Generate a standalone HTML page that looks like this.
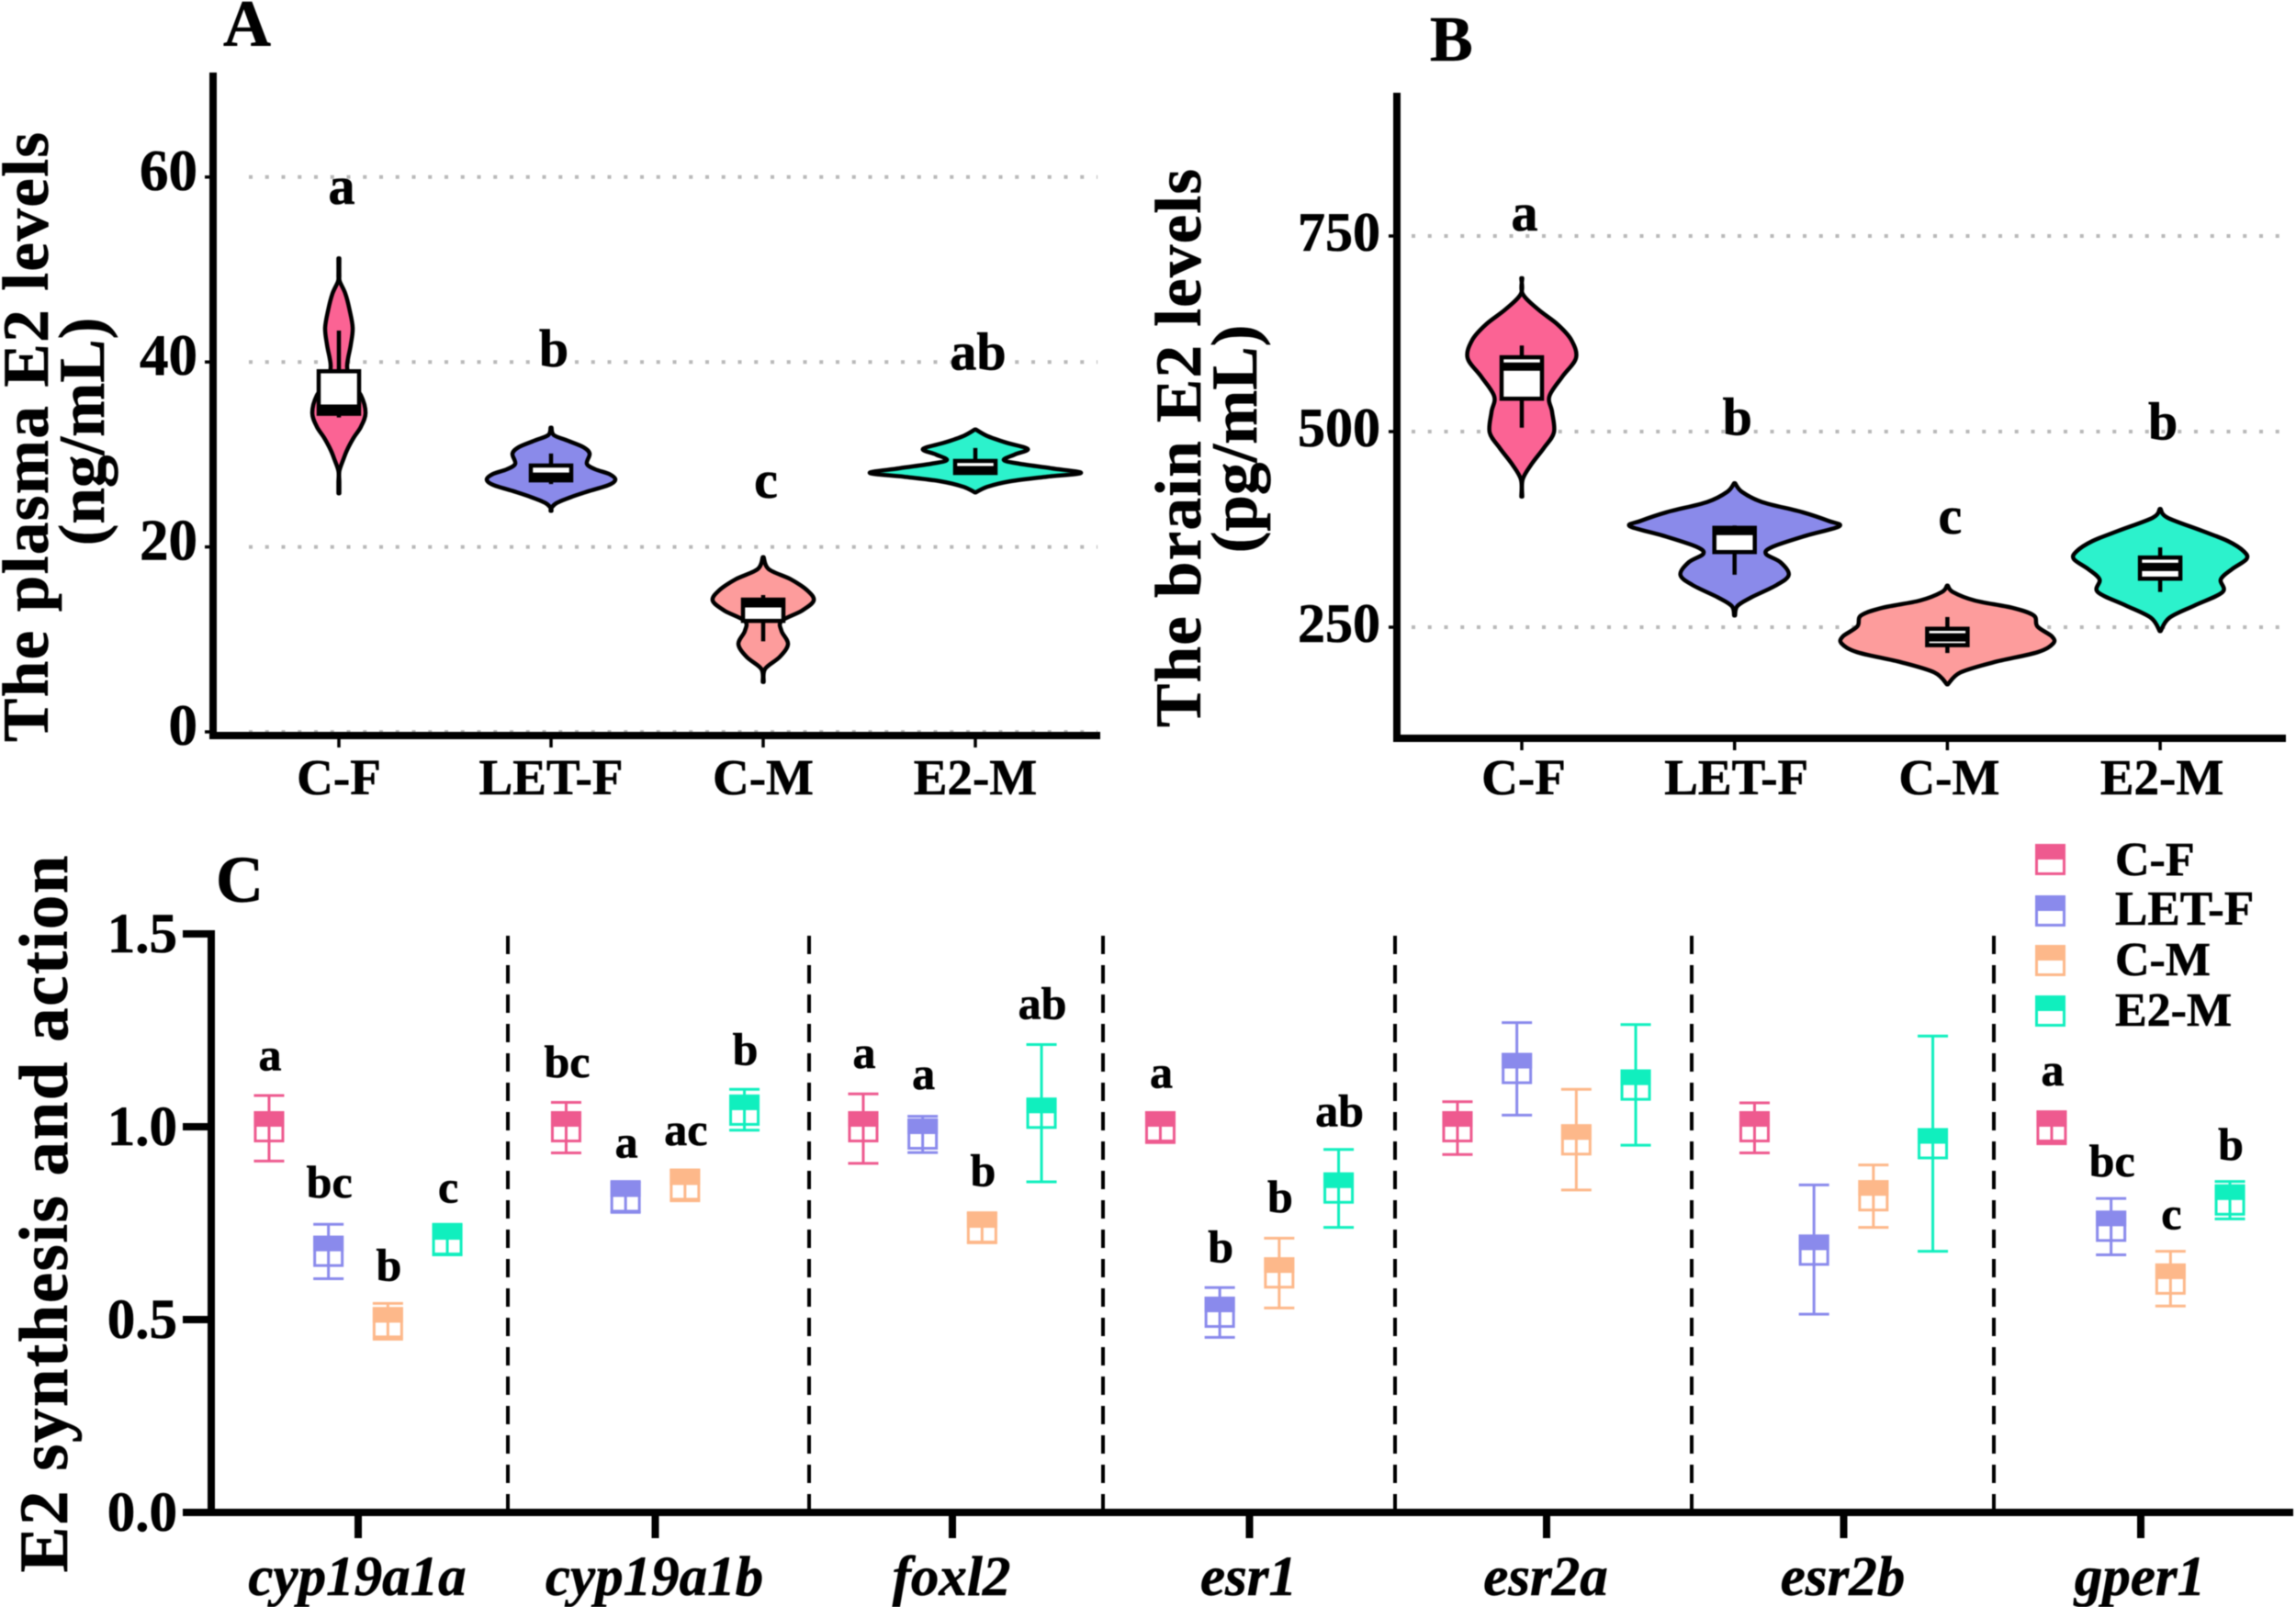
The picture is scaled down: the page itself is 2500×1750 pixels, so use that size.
<!DOCTYPE html>
<html lang="en">
<head>
<meta charset="utf-8">
<title>E2 levels and gene expression</title>
<style>
html,body{margin:0;padding:0;background:#fff;width:2500px;height:1750px;overflow:hidden}
svg{display:block;filter:blur(0.6px)}
text{font-family:"Liberation Serif","Times New Roman",serif;font-weight:700;fill:#000;stroke:#000;stroke-width:0.6px}
</style>
</head>
<body>
<svg id="figure" xmlns="http://www.w3.org/2000/svg" width="2500" height="1750" viewBox="0 0 2500 1750">
  <rect x="0" y="0" width="2500" height="1750" fill="#fff"/>

  <text x="243" y="50" font-size="72">A</text>
  <text x="1557" y="66" font-size="70">B</text>
  <text x="235" y="982" font-size="72">C</text>

  <text x="52" y="476" font-size="71" text-anchor="middle" textLength="664" transform="rotate(-90 52 476)">The plasma E2 levels</text>
  <text x="113" y="470" font-size="71" text-anchor="middle" transform="rotate(-90 113 470)">(ng/mL)</text>
  <text x="1307" y="488" font-size="71" text-anchor="middle" textLength="608" transform="rotate(-90 1307 488)">The brain E2 levels</text>
  <text x="1368" y="478" font-size="71" text-anchor="middle" transform="rotate(-90 1368 478)">(pg/mL)</text>
  <text x="73" y="1322" font-size="75" text-anchor="middle" textLength="781" transform="rotate(-90 73 1322)">E2 synthesis and action</text>

  <g id="panel-a"></g>
  <g id="panel-b"></g>

  <g stroke="#000" stroke-width="4" stroke-dasharray="20 12">
    <line x1="553" y1="1019" x2="553" y2="1645"/>
    <line x1="881" y1="1019" x2="881" y2="1645"/>
    <line x1="1201" y1="1019" x2="1201" y2="1645"/>
    <line x1="1519" y1="1019" x2="1519" y2="1645"/>
    <line x1="1842" y1="1019" x2="1842" y2="1645"/>
    <line x1="2171" y1="1019" x2="2171" y2="1645"/>
  </g>
  <g id="panel-c"></g>

  <g>
    <g>
      <rect x="2217.5" y="920.5" width="30" height="31" fill="#fff" stroke="#ee5a8f" stroke-width="3"/>
      <rect x="2216" y="919" width="33" height="17" fill="#ee5a8f"/>
      <text x="2303" y="953" font-size="52">C-F</text>
    </g>
    <g>
      <rect x="2217.5" y="976.5" width="30" height="31" fill="#fff" stroke="#8a8aec" stroke-width="3"/>
      <rect x="2216" y="975" width="33" height="17" fill="#8a8aec"/>
      <text x="2303" y="1007" font-size="53">LET-F</text>
    </g>
    <g>
      <rect x="2217.5" y="1030.5" width="30" height="31" fill="#fff" stroke="#fdb88a" stroke-width="3"/>
      <rect x="2216" y="1029" width="33" height="17" fill="#fdb88a"/>
      <text x="2303" y="1062" font-size="52">C-M</text>
    </g>
    <g>
      <rect x="2217.5" y="1085.5" width="30" height="31" fill="#fff" stroke="#10efbe" stroke-width="3"/>
      <rect x="2216" y="1084" width="33" height="17" fill="#10efbe"/>
      <text x="2303" y="1117" font-size="52">E2-M</text>
    </g>
  </g>
</svg>

<script>
/* ---------- shared categories ---------- */
var groups = ['C-F', 'LET-F', 'C-M', 'E2-M'];

/* ---------- panel A data: plasma E2 (ng/mL) ---------- */
var plasmaTicks = [0, 20, 40, 60];
var plasmaLetters = ['a', 'b', 'c', 'ab'];
var plasmaLetterLevels = [57.1, 39.5, 25.3, 39.2];

var plasmaLevelsCF = [51.2, 49.4, 48.7, 47.4, 45.7, 43.7, 41.9, 40.4, 39.4, 37.9, 36.4, 34.5, 33.0, 31.8, 30.5, 29.5, 28.2, 27.0, 25.8];
var plasmaDensityCF = [0.01, 0.015, 0.03, 0.09, 0.135, 0.17, 0.15, 0.12, 0.11, 0.14, 0.26, 0.31, 0.26, 0.18, 0.11, 0.07, 0.02, 0.01, 0.01];
var plasmaLevelsLET = [32.9, 32.1, 31.5, 30.8, 30.1, 29.0, 28.4, 27.9, 27.3, 26.7, 26.0, 25.4, 24.8, 24.3, 23.9];
var plasmaDensityLET = [0.01, 0.05, 0.2, 0.37, 0.44, 0.41, 0.5, 0.65, 0.72, 0.65, 0.42, 0.24, 0.09, 0.03, 0.01];
var plasmaLevelsCM = [18.9, 17.6, 16.5, 15.3, 14.2, 13.1, 12.0, 10.9, 9.5, 8.1, 6.8, 5.4];
var plasmaDensityCM = [0.01, 0.08, 0.32, 0.5, 0.57, 0.44, 0.22, 0.22, 0.29, 0.2, 0.04, 0.01];
var plasmaLevelsE2 = [32.7, 32.0, 31.3, 30.6, 30.0, 29.4, 29.0, 28.5, 28.0, 27.6, 27.1, 26.5, 25.9];
var plasmaDensityE2 = [0.01, 0.15, 0.35, 0.59, 0.45, 0.33, 0.5, 0.85, 1.17, 0.8, 0.4, 0.15, 0.01];

var plasmaQ3 = [39.0, 28.8, 14.3, 29.3];
var plasmaMedian = [34.95, 27.6, 13.9, 28.3];
var plasmaQ1 = [34.4, 27.2, 12.0, 28.0];
var plasmaWhiskerHigh = [43.4, 30.1, 14.8, 30.7];
var plasmaWhiskerLow = [34.0, 26.8, 9.8, 27.9];

/* ---------- panel B data: brain E2 (pg/mL) ---------- */
var brainTicks = [250, 500, 750];
var brainLetters = ['a', 'b', 'c', 'b'];
var brainLetterLevels = [757, 496, 370, 490];

var brainLevelsCF = [696, 676, 656, 637, 617, 594, 570, 545, 525, 499, 479, 459, 439, 417];
var brainDensityCF = [0.01, 0.03, 0.2, 0.41, 0.56, 0.61, 0.46, 0.32, 0.35, 0.37, 0.26, 0.13, 0.03, 0.01];
var brainLevelsLET = [434, 423, 410, 397, 386, 379, 367, 353, 344, 333, 317, 304, 288, 277, 265];
var brainDensityLET = [0.01, 0.1, 0.32, 0.76, 1.04, 1.16, 0.8, 0.44, 0.36, 0.52, 0.61, 0.48, 0.2, 0.05, 0.01];
var brainLevelsCM = [303, 295, 284, 275, 265, 251, 238, 229, 218, 205, 192, 177];
var brainDensityCM = [0.01, 0.08, 0.32, 0.72, 0.96, 1.0, 1.16, 1.17, 1.0, 0.52, 0.16, 0.01];
var brainLevelsE2 = [401, 390, 373, 360, 347, 337, 324, 311, 295, 278, 262, 245];
var brainDensityE2 = [0.01, 0.1, 0.48, 0.76, 0.93, 0.96, 0.8, 0.68, 0.7, 0.4, 0.12, 0.01];

var brainQ3 = [595, 377, 248, 339];
var brainMedian = [583, 373, 237, 327];
var brainQ1 = [542, 346, 227, 312];
var brainWhiskerHigh = [610, 380, 263, 352];
var brainWhiskerLow = [505, 317, 217, 295];

/* ---------- panel C data: relative expression ---------- */
var genes = ['cyp19a1a', 'cyp19a1b', 'foxl2', 'esr1', 'esr2a', 'esr2b', 'gper1'];
var exprTicks = ['0.0', '0.5', '1.0', '1.5'];

var meanCF = [1.0, 1.0, 1.0, 1.0, 1.0, 1.0, 1.0];
var highCF = [1.081, 1.063, 1.085, 1.036, 1.065, 1.062, 1.039];
var lowCF = [0.911, 0.932, 0.905, 0.959, 0.928, 0.932, 0.956];

var meanLET = [0.677, 0.818, 0.981, 0.519, 1.151, 0.68, 0.742];
var highLET = [0.747, 0.858, 1.027, 0.583, 1.27, 0.849, 0.814];
var lowLET = [0.606, 0.778, 0.933, 0.454, 1.03, 0.514, 0.668];

var meanCM = [0.492, 0.849, 0.738, 0.621, 0.966, 0.821, 0.605];
var highCM = [0.542, 0.888, 0.777, 0.711, 1.097, 0.901, 0.677];
var lowCM = [0.449, 0.808, 0.699, 0.53, 0.836, 0.739, 0.535];

var meanE2 = [0.707, 1.043, 1.035, 0.841, 1.108, 0.956, 0.81];
var highE2 = [0.747, 1.097, 1.213, 0.941, 1.265, 1.235, 0.858];
var lowE2 = [0.668, 0.991, 0.857, 0.739, 0.952, 0.677, 0.761];

var lettersCF = ['a', 'bc', 'a', 'a', '', '', 'a'];
var letterLevelCF = [1.146, 1.129, 1.152, 1.101, 0, 0, 1.107];
var lettersLET = ['bc', 'a', 'a', 'b', '', '', 'bc'];
var letterLevelLET = [0.817, 0.92, 1.098, 0.649, 0, 0, 0.872];
var lettersCM = ['b', 'ac', 'b', 'b', '', '', 'c'];
var letterLevelCM = [0.601, 0.952, 0.846, 0.778, 0, 0, 0.735];
var lettersE2 = ['c', 'b', 'ab', 'ab', '', '', 'b'];
var letterLevelE2 = [0.804, 1.161, 1.28, 1.001, 0, 0, 0.914];

/* ---------- helpers ---------- */
var NS = 'http://www.w3.org/2000/svg';
var violinFills = ['#fb6394', '#8a8aea', '#fd9c9c', '#2cf2cc'];
var markerColors = ['#ee5a8f', '#8a8aec', '#fdb88a', '#10efbe'];

function make(parent, tag, attrs, text) {
  var el = document.createElementNS(NS, tag);
  for (var k in attrs) { el.setAttribute(k, attrs[k]); }
  if (text !== undefined) { el.textContent = text; }
  parent.appendChild(el);
  return el;
}

function smoothPath(pts) {
  var d = '';
  for (var i = 0; i < pts.length - 1; i++) {
    var p0 = pts[Math.max(i - 1, 0)], p1 = pts[i], p2 = pts[i + 1], p3 = pts[Math.min(i + 2, pts.length - 1)];
    var c1x = p1[0] + (p2[0] - p0[0]) / 6, c1y = p1[1] + (p2[1] - p0[1]) / 6;
    var c2x = p2[0] - (p3[0] - p1[0]) / 6, c2y = p2[1] - (p3[1] - p1[1]) / 6;
    d += ' C' + c1x.toFixed(1) + ' ' + c1y.toFixed(1) + ' ' + c2x.toFixed(1) + ' ' + c2y.toFixed(1) + ' ' + p2[0].toFixed(1) + ' ' + p2[1].toFixed(1);
  }
  return d;
}

function slug(s) { return s.toLowerCase().replace(/[^a-z0-9]+/g, '-'); }

/* ---------- violin panel ---------- */
function drawViolinPanel(cfg) {
  var g = document.getElementById(cfg.id);
  var px = cfg.prefix;
  var el;

  function halfWidth(d) { return Math.max(d * 100 - 2, 0.5); }

  /* gridlines */
  cfg.ticks.forEach(function (t) {
    el = make(g, 'line', { x1: cfg.gridLeft, y1: cfg.y(t), x2: cfg.gridRight, y2: cfg.y(t), stroke: '#b8b8b8', 'stroke-width': 4, 'stroke-dasharray': '4 13.75' });
    
    
  });

  /* violins and boxes */
  groups.forEach(function (name, i) {
    var cx = cfg.x(i);
    var levels = cfg.levels[i], dens = cfg.density[i];
    var right = levels.map(function (v, k) { return [cx + halfWidth(dens[k]), cfg.y(v)]; });
    var left = levels.map(function (v, k) { return [cx - halfWidth(dens[k]), cfg.y(v)]; }).reverse();
    var d = 'M' + right[0][0].toFixed(1) + ' ' + right[0][1].toFixed(1) + smoothPath(right) +
            ' L' + left[0][0].toFixed(1) + ' ' + left[0][1].toFixed(1) + smoothPath(left) + ' Z';
    el = make(g, 'path', { d: d, fill: violinFills[i], stroke: '#000', 'stroke-width': 4.5, 'stroke-linejoin': 'round' });
    
    

    el = make(g, 'line', { x1: cx, y1: cfg.y(cfg.whiskerHigh[i]), x2: cx, y2: cfg.y(cfg.whiskerLow[i]), stroke: '#000', 'stroke-width': 4.5 });
    
    

    el = make(g, 'rect', { x: cx - 22, y: cfg.y(cfg.q3[i]), width: 44, height: cfg.y(cfg.q1[i]) - cfg.y(cfg.q3[i]), fill: '#fff', stroke: '#000', 'stroke-width': 4.5 });
    
    

    el = make(g, 'line', { x1: cx - 22, y1: cfg.y(cfg.median[i]), x2: cx + 22, y2: cfg.y(cfg.median[i]), stroke: '#000', 'stroke-width': 9 });
    
    

    el = make(g, 'text', { x: cx + cfg.letterDx, y: cfg.y(cfg.letterLevels[i]), 'font-size': 58, 'text-anchor': 'middle' }, cfg.letters[i]);
    
    

    el = make(g, 'line', { x1: cx, y1: cfg.axisY, x2: cx, y2: cfg.axisY + 13, stroke: '#000', 'stroke-width': 3.5 });
    
    

    el = make(g, 'text', { x: cx + cfg.labelDx, y: 865, 'font-size': 55, 'text-anchor': 'middle' }, name);
    
    
  });

  /* y ticks */
  cfg.ticks.forEach(function (t) {
    el = make(g, 'line', { x1: cfg.axisX - 9, y1: cfg.y(t), x2: cfg.axisX, y2: cfg.y(t), stroke: '#000', 'stroke-width': 3.5 });
    
    

    el = make(g, 'text', { x: cfg.axisX - cfg.labelGap, y: cfg.y(t) + cfg.labelDrop, 'font-size': cfg.tickFont, 'text-anchor': 'end' }, String(t));
    
    
  });

  /* axes */
  el = make(g, 'line', { x1: cfg.axisX, y1: cfg.axisTop, x2: cfg.axisX, y2: cfg.axisY + 4, stroke: '#000', 'stroke-width': 8 });
  
  

  el = make(g, 'line', { x1: cfg.axisX - 4, y1: cfg.axisY, x2: cfg.axisRight, y2: cfg.axisY, stroke: '#000', 'stroke-width': 8 });
  
  
}

drawViolinPanel({
  id: 'panel-a', prefix: 'panel-a',
  x: function (i) { return 369 + i * 231; },
  y: function (v) { return 797 - v * 10.07; },
  ticks: plasmaTicks,
  levels: [plasmaLevelsCF, plasmaLevelsLET, plasmaLevelsCM, plasmaLevelsE2],
  density: [plasmaDensityCF, plasmaDensityLET, plasmaDensityCM, plasmaDensityE2],
  q3: plasmaQ3, median: plasmaMedian, q1: plasmaQ1,
  whiskerHigh: plasmaWhiskerHigh, whiskerLow: plasmaWhiskerLow,
  letters: plasmaLetters, letterLevels: plasmaLetterLevels,
  letterDx: 3, labelDx: 0,
  gridLeft: 271, gridRight: 1195,
  axisX: 232, axisY: 801, axisTop: 79, axisRight: 1198,
  labelGap: 17, labelDrop: 14, tickFont: 63
});

drawViolinPanel({
  id: 'panel-b', prefix: 'panel-b',
  x: function (i) { return 1657 + i * 231.7; },
  y: function (v) { return 683 - (v - 250) * 0.852; },
  ticks: brainTicks,
  levels: [brainLevelsCF, brainLevelsLET, brainLevelsCM, brainLevelsE2],
  density: [brainDensityCF, brainDensityLET, brainDensityCM, brainDensityE2],
  q3: brainQ3, median: brainMedian, q1: brainQ1,
  whiskerHigh: brainWhiskerHigh, whiskerLow: brainWhiskerLow,
  letters: brainLetters, letterLevels: brainLetterLevels,
  letterDx: 3, labelDx: 2,
  gridLeft: 1537, gridRight: 2485,
  axisX: 1521, axisY: 804, axisTop: 101, axisRight: 2489,
  labelGap: 18, labelDrop: 16, tickFont: 60
});

/* ---------- panel C ---------- */
(function () {
  var g = document.getElementById('panel-c');
  var el;
  function yC(v) { return 1647 - v * 420; }
  function xC(geneIndex, groupIndex) { return 390 + geneIndex * 323.5 + (groupIndex - 1.5) * 64.7; }

  var means = [meanCF, meanLET, meanCM, meanE2];
  var highs = [highCF, highLET, highCM, highE2];
  var lows = [lowCF, lowLET, lowCM, lowE2];
  var letterSets = [lettersCF, lettersLET, lettersCM, lettersE2];
  var letterLevels = [letterLevelCF, letterLevelLET, letterLevelCM, letterLevelE2];

  genes.forEach(function (gene, gi) {
    groups.forEach(function (grp, si) {
      var x = xC(gi, si), c = markerColors[si];
      var ym = yC(means[si][gi]), yh = yC(highs[si][gi]), yl = yC(lows[si][gi]);
      var id = slug(gene) + '-' + slug(grp);

      el = make(g, 'rect', { x: x - 15, y: ym - 15.5, width: 30, height: 31, fill: '#fff', stroke: c, 'stroke-width': 3 });
      
      

      el = make(g, 'line', { x1: x, y1: yh, x2: x, y2: yl, stroke: c, 'stroke-width': 3 });
      
      

      el = make(g, 'line', { x1: x - 16.5, y1: yh, x2: x + 16.5, y2: yh, stroke: c, 'stroke-width': 3 });
      
      

      el = make(g, 'line', { x1: x - 16.5, y1: yl, x2: x + 16.5, y2: yl, stroke: c, 'stroke-width': 3 });
      
      

      el = make(g, 'rect', { x: x - 16.5, y: ym - 17, width: 33, height: 17, fill: c });
      
      

      if (letterSets[si][gi]) {
        el = make(g, 'text', { x: x + 1, y: yC(letterLevels[si][gi]), 'font-size': 50, 'text-anchor': 'middle' }, letterSets[si][gi]);
        
        
      }
    });

    var tx = 390 + gi * 323.5;
    el = make(g, 'line', { x1: tx, y1: 1647, x2: tx, y2: 1675, stroke: '#000', 'stroke-width': 8 });
    
    

    el = make(g, 'text', { x: tx - 1, y: 1737, 'font-size': 61, 'font-style': 'italic', 'text-anchor': 'middle' }, gene);
    
    
  });

  exprTicks.forEach(function (t) {
    var y = yC(parseFloat(t));
    el = make(g, 'line', { x1: 199, y1: y, x2: 234, y2: y, stroke: '#000', 'stroke-width': 8 });
    
    

    el = make(g, 'text', { x: 193, y: y + 20, 'font-size': 61, 'text-anchor': 'end' }, t);
    
    
  });

  el = make(g, 'line', { x1: 230, y1: 1013, x2: 230, y2: 1651, stroke: '#000', 'stroke-width': 8 });
  
  

  el = make(g, 'line', { x1: 199, y1: 1647, x2: 2497, y2: 1647, stroke: '#000', 'stroke-width': 8 });
  
  
})();
</script>
</body>
</html>
